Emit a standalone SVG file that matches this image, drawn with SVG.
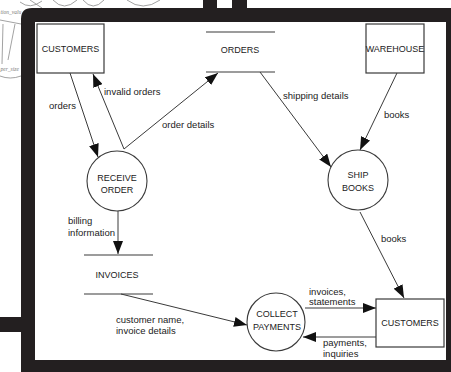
<svg xmlns="http://www.w3.org/2000/svg" width="451" height="372" viewBox="0 0 451 372">
  <style>
    .bg { fill: #ffffff; }
    .frame { fill: #231f20; fill-rule: evenodd; }
    .ghost { fill: none; stroke: #8a8a8a; stroke-width: 0.8; }
    .ghost-t { font-family: "Liberation Serif", serif; font-style: italic; font-size: 5.5px; fill: #7a7a7a; }
    .box { fill: #ffffff; stroke: #3a3a3a; stroke-width: 1.2; }
    .proc { fill: #ffffff; stroke: #3a3a3a; stroke-width: 1.1; }
    .store { stroke: #3a3a3a; stroke-width: 1.2; }
    .node-t { font-family: "Liberation Sans", Arial, sans-serif; font-size: 9px; fill: #222; text-anchor: middle; }
    .flow { fill: none; stroke: #3a3a3a; stroke-width: 1; }
    .lbl { font-family: "Liberation Sans", Arial, sans-serif; font-size: 9.5px; fill: #222; }
  </style>
  <defs>
    <marker id="head" viewBox="0 0 13 10" refX="13" refY="5" markerWidth="13" markerHeight="10" markerUnits="userSpaceOnUse" orient="auto">
      <path d="M0,0 L13,5 L0,10 Z" fill="#111"/>
    </marker>
  </defs>

  <rect class="bg" x="0" y="0" width="451" height="372"/>

  <!-- fragments of a neighbouring sketch, outside the frame -->
  <g id="backdrop">
    <path class="ghost" d="M20,2 Q30,10 42,1"/>
    <path class="ghost" d="M53,0 Q64,12 77,0"/>
    <path class="ghost" d="M83,0 Q93,12 104,0"/>
    <path class="ghost" d="M127,0 Q143,12 160,0"/>
    <path class="ghost" d="M0,20 L21,24"/>
    <path class="ghost" d="M3,24 L2,64"/>
    <path class="ghost" d="M15,24 L8,60"/>
    <path class="ghost" d="M0,76 Q10,80 21,76"/>
    <path class="ghost" d="M30,0 Q36,4 42,8"/>
    <text class="ghost-t" x="0.5" y="14">tion_valu</text>
    <text class="ghost-t" x="0.5" y="71">per_size</text>
  </g>

  <!-- thick frame with tabs -->
  <g id="frame">
    <path class="frame" d="M21,19 Q21,8 32,8 H451 V372 H21 Z M35,22 H446 V360 H35 Z"/>
    <rect x="0" y="317" width="22" height="15" fill="#231f20"/>
    <rect x="203" y="0" width="14" height="9" fill="#231f20"/>
    <rect x="232" y="0" width="15" height="9" fill="#231f20"/>
  </g>

  <!-- data flows -->
  <g id="connectors">
    <line class="flow" x1="70" y1="73" x2="98" y2="157" marker-end="url(#head)"/>
    <line class="flow" x1="124" y1="149" x2="93" y2="74" marker-end="url(#head)"/>
    <line class="flow" x1="124" y1="149" x2="218" y2="73" marker-end="url(#head)"/>
    <line class="flow" x1="118" y1="211" x2="118" y2="254" marker-end="url(#head)"/>
    <line class="flow" x1="260" y1="72" x2="331" y2="167" marker-end="url(#head)"/>
    <line class="flow" x1="397" y1="73" x2="360" y2="150" marker-end="url(#head)"/>
    <line class="flow" x1="360" y1="212" x2="404" y2="298" marker-end="url(#head)"/>
    <line class="flow" x1="121" y1="294" x2="247" y2="325" marker-end="url(#head)"/>
    <line class="flow" x1="305" y1="308" x2="376" y2="308" marker-end="url(#head)"/>
    <line class="flow" x1="376" y1="337" x2="303" y2="337" marker-end="url(#head)"/>

    <text class="lbl" x="49" y="109">orders</text>
    <text class="lbl" x="104" y="95">invalid orders</text>
    <text class="lbl" x="162" y="128">order details</text>
    <text class="lbl" x="68" y="224">billing</text>
    <text class="lbl" x="68" y="236">information</text>
    <text class="lbl" x="283" y="99">shipping details</text>
    <text class="lbl" x="384" y="118">books</text>
    <text class="lbl" x="381" y="242">books</text>
    <text class="lbl" x="116" y="323">customer name,</text>
    <text class="lbl" x="116" y="334">invoice details</text>
    <text class="lbl" x="309" y="295">invoices,</text>
    <text class="lbl" x="309" y="305">statements</text>
    <text class="lbl" x="323" y="346">payments,</text>
    <text class="lbl" x="323" y="357">inquiries</text>
  </g>

  <g id="customers-top">
    <rect class="box" x="37" y="24" width="67" height="49"/>
    <text class="node-t" x="70.5" y="52">CUSTOMERS</text>
  </g>

  <g id="orders-store">
    <line class="store" x1="206" y1="32" x2="275" y2="32"/>
    <line class="store" x1="206" y1="72" x2="275" y2="72"/>
    <text class="node-t" x="240" y="53">ORDERS</text>
  </g>

  <g id="warehouse">
    <rect class="box" x="366" y="24" width="58" height="49"/>
    <text class="node-t" x="395" y="52">WAREHOUSE</text>
  </g>

  <g id="receive-order">
    <circle class="proc" cx="117" cy="181" r="30"/>
    <text class="node-t" x="117" y="181">RECEIVE</text>
    <text class="node-t" x="117" y="193">ORDER</text>
  </g>

  <g id="ship-books">
    <circle class="proc" cx="358" cy="180" r="30"/>
    <text class="node-t" x="358" y="178">SHIP</text>
    <text class="node-t" x="358" y="191">BOOKS</text>
  </g>

  <g id="invoices-store">
    <line class="store" x1="84" y1="255" x2="153" y2="255"/>
    <line class="store" x1="84" y1="294" x2="153" y2="294"/>
    <text class="node-t" x="117" y="278">INVOICES</text>
  </g>

  <g id="collect-payments">
    <circle class="proc" cx="276" cy="322" r="29"/>
    <text class="node-t" x="277" y="317">COLLECT</text>
    <text class="node-t" x="277" y="330">PAYMENTS</text>
  </g>

  <g id="customers-bottom">
    <rect class="box" x="376" y="299" width="68" height="48"/>
    <text class="node-t" x="410" y="326">CUSTOMERS</text>
  </g>
</svg>
